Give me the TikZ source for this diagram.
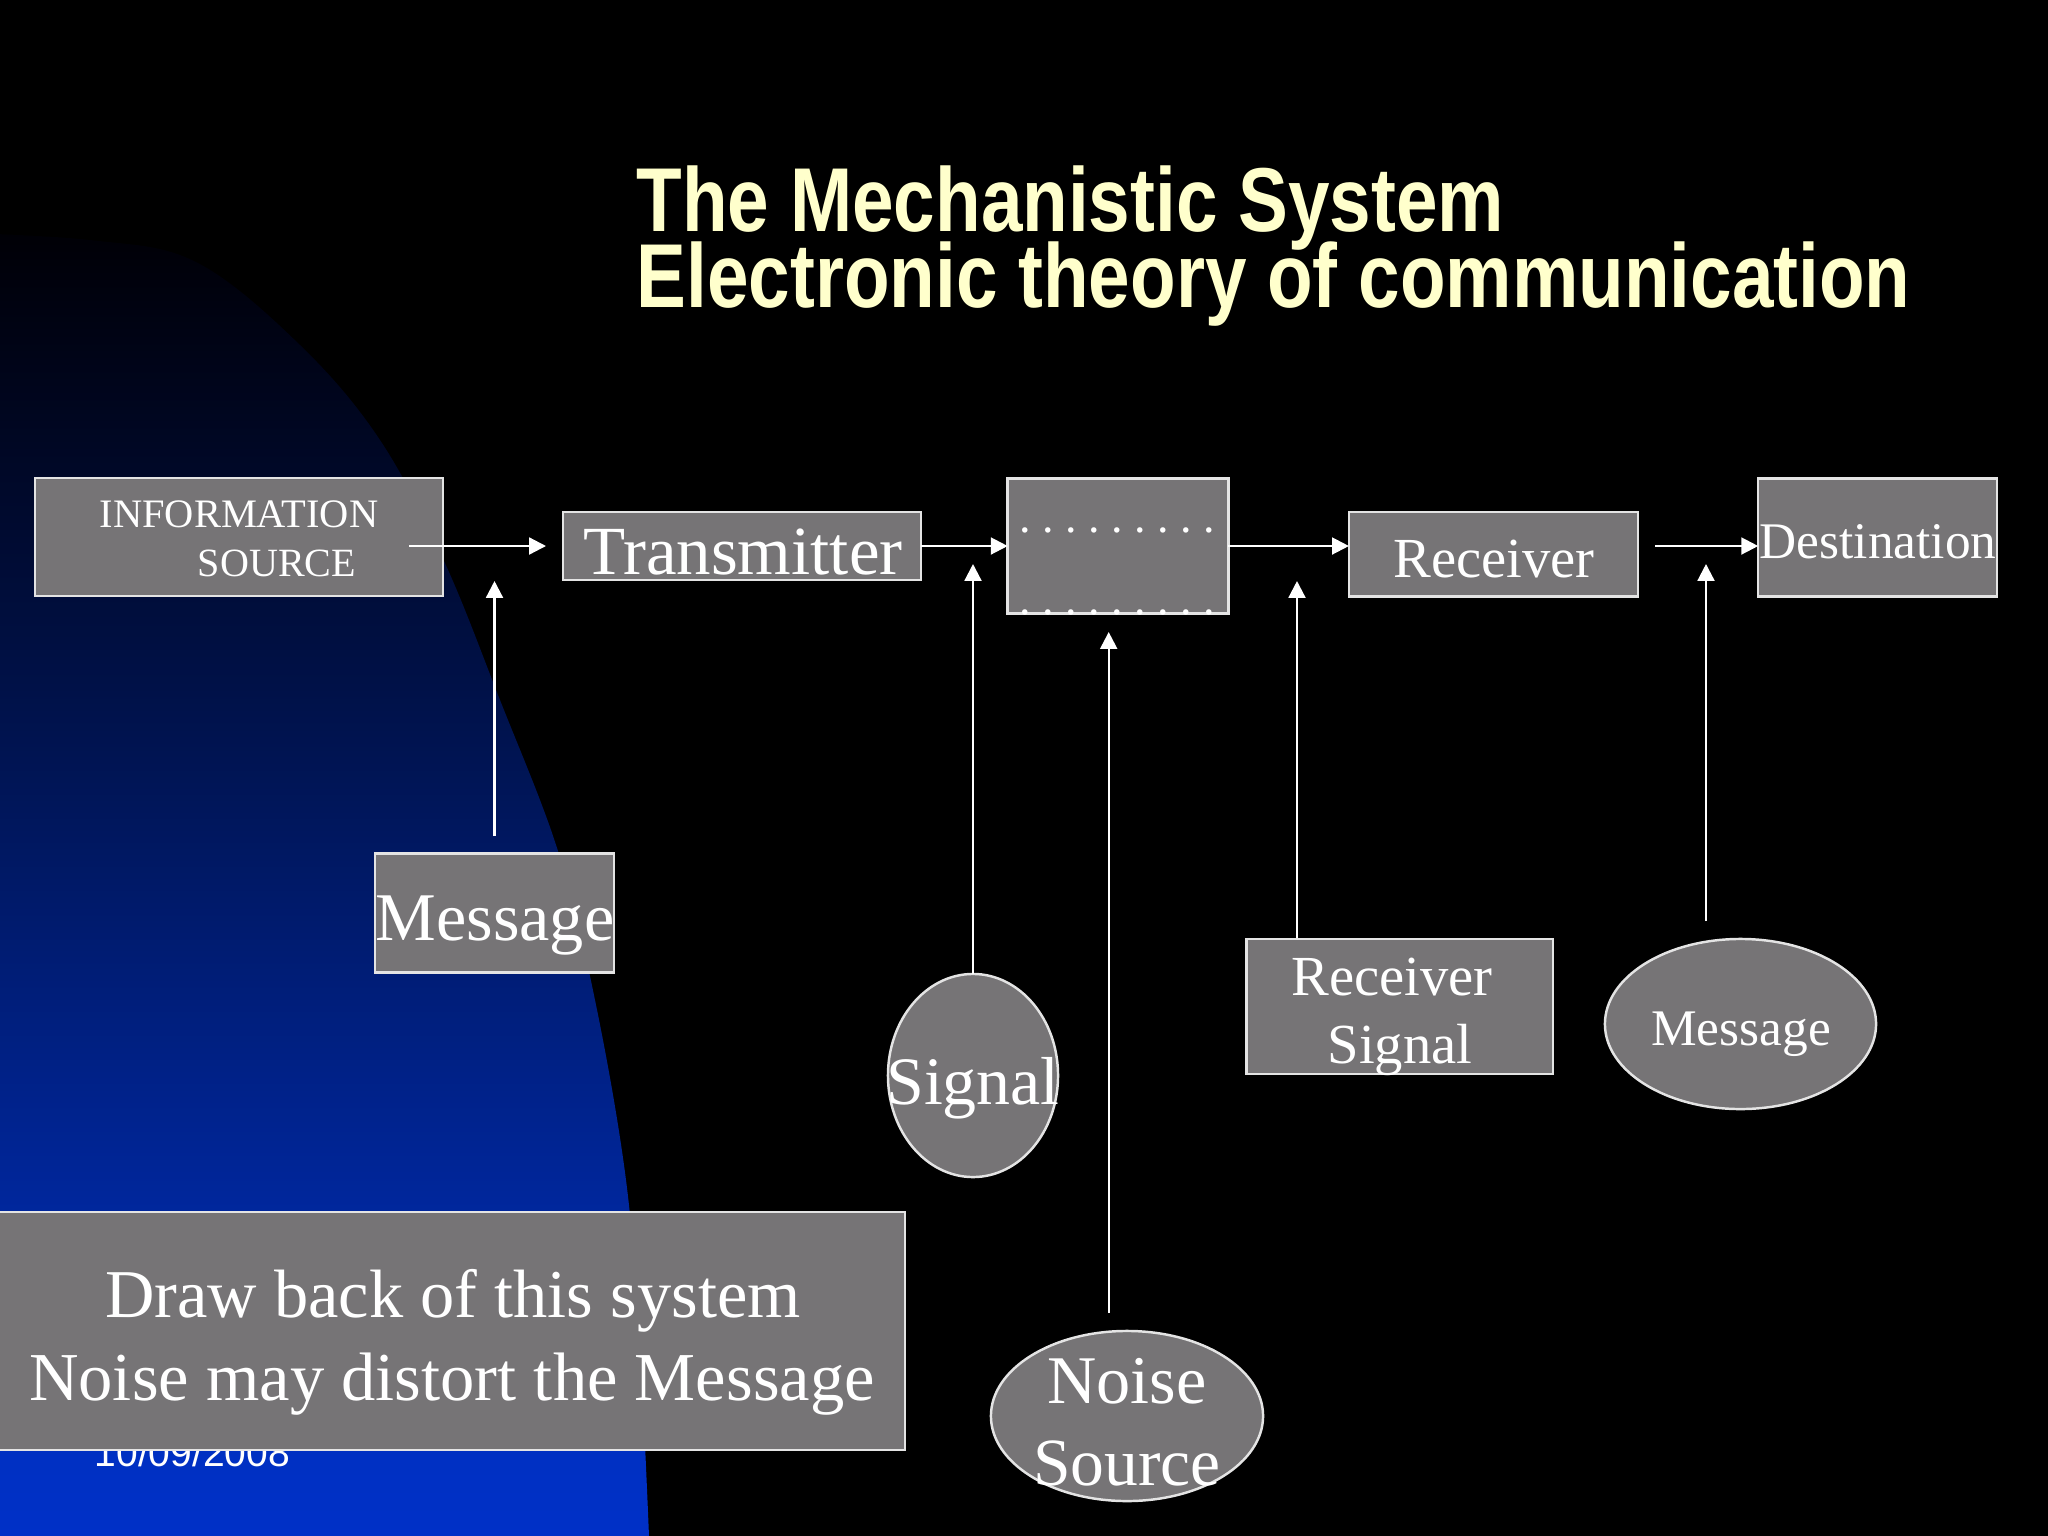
\documentclass[tikz,border=0pt]{standalone}
\usepackage{fontspec}
\setmainfont{Liberation Serif}
\newfontfamily\titlefont[FakeStretch=0.823]{Liberation Sans Bold}
\newfontfamily\datefont{Liberation Sans}
\usetikzlibrary{arrows.meta,shapes.geometric}
\definecolor{boxgray}{HTML}{767476}
\definecolor{edgec}{HTML}{E4E4E4}
\definecolor{titlec}{HTML}{FFFFCC}
\pgfdeclareverticalshading{bluefade}{100bp}{
  rgb(0bp)=(0,0.19,0.78);
  rgb(25bp)=(0,0.19,0.78);
  rgb(28bp)=(0,0.19,0.76);
  rgb(40bp)=(0,0.13,0.53);
  rgb(50bp)=(0,0.08,0.33);
  rgb(60bp)=(0,0.03,0.15);
  rgb(67bp)=(0,0,0.03);
  rgb(69bp)=(0,0,0);
  rgb(100bp)=(0,0,0)}
\tikzset{
  x=0.01cm,y=-0.01cm,
  box/.style={draw=edgec,fill=boxgray,line width=0.7pt,inner sep=0pt,outer sep=0pt,rectangle},
  oval/.style={draw=edgec,fill=boxgray,line width=0.7pt,inner sep=0pt,outer sep=0pt,ellipse},
  txt/.style={text=white,inner sep=0pt,anchor=base},
  conn/.style={draw=white,line width=0.65pt,-{Triangle[length=4.8pt,width=4.8pt]}},
  title/.style={text=titlec,inner sep=0pt,anchor=base west,font=\titlefont\fontsize{25.8}{30}\selectfont},
}
\frenchspacing
\begin{document}
\begin{tikzpicture}
\useasboundingbox (0,0) rectangle (2048,1536);
\fill[black] (0,0) rectangle (2048,1536);
\begin{scope}
\clip plot[smooth,tension=0.6] coordinates {(-60,232) (90,240) (196,262) (300,345) (380,440) (444,561) (500,700) (558,851) (595,1000) (626,1180) (640,1350) (649,1536)} -- (-60,1536) -- cycle;
\fill[black] (-60,0) rectangle (700,1536);
\shade[shading=bluefade] (-60,0) rectangle (700,1536);
\end{scope}

\node[title] (t1) at (636,231) {The Mechanistic System};
\node[title] (t2) at (636,307) {Electronic theory of communication};

\node[txt,anchor=base west,font=\datefont\fontsize{11.1}{13}\selectfont] (date) at (94,1466) {10/09/2008};

\node[box,minimum width=4.08cm,minimum height=1.18cm] (info) at (239,537) {};
\node[box,minimum width=3.575cm,minimum height=0.675cm] (tx) at (742,546) {};
\node[box,minimum width=2.205cm,minimum height=1.35cm] (mid) at (1118,546) {};
\node[box,minimum width=2.89cm,minimum height=0.845cm] (rx) at (1493.5,554.3) {};
\node[box,minimum width=2.385cm,minimum height=1.18cm] (dest) at (1877.5,537.5) {};
\node[box,minimum width=2.39cm,minimum height=1.185cm] (msg) at (494.5,913) {};
\node[oval,minimum width=1.70cm,minimum height=2.03cm] (sig) at (973,1075.5) {};
\node[box,minimum width=3.06cm,minimum height=1.35cm] (rs) at (1399.7,1006.5) {};
\node[oval,minimum width=2.71cm,minimum height=1.70cm] (msgo) at (1740.5,1024) {};
\node[oval,minimum width=2.72cm,minimum height=1.70cm] (noise) at (1127,1416) {};
\node[box,minimum width=9.06cm,minimum height=2.38cm] (draw) at (451.5,1331) {};

\coordinate (infoS) at (409,546);
\coordinate (txW) at (546,546);
\coordinate (msgS) at (494.5,836);
\coordinate (msgE) at (494.5,581);
\coordinate (sigE) at (973,564);
\coordinate (noiS) at (1108.7,1313);
\coordinate (noiE) at (1108.7,632);
\coordinate (rsS) at (1297,938);
\coordinate (rsE) at (1297,581);
\coordinate (rxS) at (1655,546);
\coordinate (moS) at (1706,921);
\coordinate (moE) at (1706,564);

\draw[conn] (infoS) -- (txW);
\draw[conn] (tx.east) -- (mid.west);
\draw[conn] (mid.east) -- (mid.east -| rx.west);
\draw[conn] (rxS) -- (rxS -| dest.west);
\draw[conn] (msgS) -- (msgE);
\draw[conn] (sig.north) -- (sigE);
\draw[conn] (noiS) -- (noiE);
\draw[conn] (rsS) -- (rsE);
\draw[conn] (moS) -- (moE);

\node[txt,font=\fontsize{11.5}{14}\selectfont] (l1) at (239,527) {INFORMATION};
\node[txt,font=\fontsize{11.4}{14}\selectfont] (l2) at (277,576) {SOURCE};
\node[txt,font=\fontsize{19.6}{24}\selectfont] (l3) at (743,574) {Transmitter};
\node[txt,font=\fontsize{13.1}{16}\selectfont] (l4) at (1117.5,532) {. . . . . . . . .};
\node[txt,font=\fontsize{13.1}{16}\selectfont] (l5) at (1117.5,614) {. . . . . . . . .};
\node[txt,font=\fontsize{16.1}{19}\selectfont] (l6) at (1494,577) {Receiver};
\node[txt,font=\fontsize{14.6}{17}\selectfont] (l7) at (1878,558) {Destination};
\node[txt,font=\fontsize{19.4}{24}\selectfont] (l8) at (495,940) {Message};
\node[txt,font=\fontsize{19.3}{23}\selectfont] (l9) at (973,1104) {Signal};
\node[txt,font=\fontsize{16.1}{19}\selectfont] (l10) at (1392,995) {Receiver};
\node[txt,font=\fontsize{16.1}{19}\selectfont] (l11) at (1400,1063) {Signal};
\node[txt,font=\fontsize{14.6}{17}\selectfont] (l12) at (1741,1045) {Message};
\node[txt,font=\fontsize{19.4}{23}\selectfont] (l13) at (1127,1403) {Noise};
\node[txt,font=\fontsize{19.2}{23}\selectfont] (l14) at (1127,1485) {Source};
\node[txt,font=\fontsize{19.45}{23}\selectfont] (l15) at (453,1317) {Draw back of this system};
\node[txt,font=\fontsize{19.5}{23}\selectfont] (l16) at (452,1400) {Noise may distort the Message};
\end{tikzpicture}
\end{document}
